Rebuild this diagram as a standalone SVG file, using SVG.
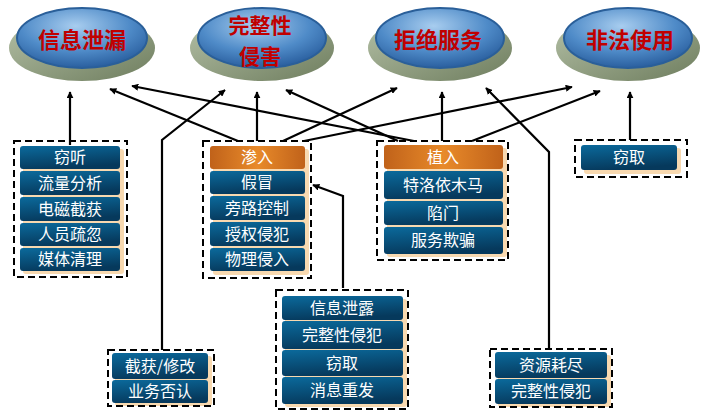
<svg xmlns="http://www.w3.org/2000/svg" width="725" height="414" viewBox="0 0 725 414">
<defs>
<linearGradient id="base" x1="0" y1="0" x2="1" y2="1"><stop offset="0" stop-color="#b6c2a8"/><stop offset="1" stop-color="#6e7d5e"/></linearGradient>
<radialGradient id="top" cx="0.45" cy="0.3" r="0.7"><stop offset="0" stop-color="#a8cdef"/><stop offset="0.6" stop-color="#4f8bc8"/><stop offset="1" stop-color="#2a5f9f"/></radialGradient>
<linearGradient id="blue" x1="0" y1="0" x2="0.3" y2="1"><stop offset="0" stop-color="#0b6a9c"/><stop offset="1" stop-color="#06395c"/></linearGradient>
<linearGradient id="orange" x1="0" y1="0" x2="1" y2="0"><stop offset="0" stop-color="#c0621a"/><stop offset="0.5" stop-color="#e88a2a"/><stop offset="1" stop-color="#c0621a"/></linearGradient>
<marker id="ar" viewBox="0 0 10 10" refX="9" refY="5" markerWidth="7" markerHeight="7" orient="auto" markerUnits="userSpaceOnUse"><path d="M0,0 L10,5 L0,10 z" fill="#000"/></marker>
</defs>
<style>
.t{font-family:"Noto Sans CJK SC","Noto Sans",sans-serif;}
.big{font-size:22px;font-weight:bold;fill:#c00000;text-anchor:middle;}
.it{font-size:16px;fill:#fff;text-anchor:middle;}
.sh{fill:#f8d9b0;}
.dash{fill:none;stroke:#000;stroke-width:2;stroke-dasharray:7 4;}
.c{fill:none;stroke:#000;stroke-width:2.2;marker-end:url(#ar);}
</style>
<rect width="725" height="414" fill="#fff"/>
<g id="n-leak"><ellipse cx="82" cy="48" rx="73" ry="33" fill="url(#base)"/><ellipse cx="82" cy="38" rx="65" ry="30" fill="url(#top)" stroke="#2a5f99" stroke-width="2"/><text class="t big" x="82" y="48">信息泄漏</text></g>
<g id="n-integ"><ellipse cx="262" cy="48" rx="72" ry="33" fill="url(#base)"/><ellipse cx="262" cy="38" rx="64" ry="30" fill="url(#top)" stroke="#2a5f99" stroke-width="2"/><text class="t big" x="260" y="33" style="font-size:21px">完整性</text><text class="t big" x="260" y="64" style="font-size:21px">侵害</text></g>
<g id="n-dos"><ellipse cx="440" cy="48" rx="72" ry="33" fill="url(#base)"/><ellipse cx="440" cy="38" rx="64" ry="30" fill="url(#top)" stroke="#2a5f99" stroke-width="2"/><text class="t big" x="438" y="48">拒绝服务</text></g>
<g id="n-illegal"><ellipse cx="628" cy="48" rx="72" ry="33" fill="url(#base)"/><ellipse cx="628" cy="38" rx="64" ry="30" fill="url(#top)" stroke="#2a5f99" stroke-width="2"/><text class="t big" x="630" y="48">非法使用</text></g>

<g id="connectors">
<path class="c" d="M70,145 V92"/>
<path class="c" d="M238,141 L110,89"/>
<path class="c" d="M414,141 L132,86"/>
<path class="c" d="M162,350 V140 L225,90"/>
<path class="c" d="M257,141 V92"/>
<path class="c" d="M398,141 L286,90"/>
<path class="c" d="M283,141 L397,88"/>
<path class="c" d="M304,141 L572,87"/>
<path class="c" d="M442,141 V92"/>
<path class="c" d="M472,141 L600,91"/>
<path class="c" d="M549,350 V152 L486,88"/>
<path class="c" d="M630,140 V92"/>
<path class="c" d="M343,288 V196 L313,185"/>
</g>

<g id="g-eaves">
<rect x="23" y="149" width="101" height="125" rx="3" class="sh"/>
<rect x="20" y="146" width="100" height="23" rx="3" fill="url(#blue)"/><text class="t it" x="70" y="163">窃听</text>
<rect x="20" y="171" width="100" height="24" rx="3" fill="url(#blue)"/><text class="t it" x="70" y="189">流量分析</text>
<rect x="20" y="197" width="100" height="24" rx="3" fill="url(#blue)"/><text class="t it" x="70" y="215">电磁截获</text>
<rect x="20" y="223" width="100" height="23" rx="3" fill="url(#blue)"/><text class="t it" x="70" y="240">人员疏忽</text>
<rect x="20" y="248" width="100" height="23" rx="3" fill="url(#blue)"/><text class="t it" x="70" y="265">媒体清理</text>
<rect x="14" y="141" width="113" height="136" class="dash"/>
</g>

<g id="g-penetrate">
<rect x="213" y="149" width="96" height="126" rx="3" class="sh"/>
<rect x="210" y="146" width="95" height="23" rx="3" fill="url(#orange)"/><text class="t it" x="257" y="163">渗入</text>
<rect x="210" y="171" width="95" height="23" rx="3" fill="url(#blue)"/><text class="t it" x="257" y="188">假冒</text>
<rect x="210" y="196" width="95" height="24" rx="3" fill="url(#blue)"/><text class="t it" x="257" y="214">旁路控制</text>
<rect x="210" y="222" width="95" height="24" rx="3" fill="url(#blue)"/><text class="t it" x="257" y="240">授权侵犯</text>
<rect x="210" y="248" width="95" height="23" rx="3" fill="url(#blue)"/><text class="t it" x="257" y="265">物理侵入</text>
<rect x="203" y="141" width="108" height="137" class="dash"/>
</g>

<g id="g-implant">
<rect x="387" y="148" width="120" height="109" rx="3" class="sh"/>
<rect x="384" y="145" width="119" height="24" rx="3" fill="url(#orange)"/><text class="t it" x="443" y="163">植入</text>
<rect x="384" y="171" width="119" height="28" rx="3" fill="url(#blue)"/><text class="t it" x="443" y="191">特洛依木马</text>
<rect x="384" y="201" width="119" height="24" rx="3" fill="url(#blue)"/><text class="t it" x="443" y="219">陷门</text>
<rect x="384" y="227" width="119" height="27" rx="3" fill="url(#blue)"/><text class="t it" x="443" y="246">服务欺骗</text>
<rect x="377" y="141" width="131" height="119" class="dash"/>
</g>

<g id="g-steal">
<rect x="584" y="148" width="97" height="26" rx="3" class="sh"/>
<rect x="581" y="145" width="96" height="25" rx="3" fill="url(#blue)"/><text class="t it" x="629" y="163">窃取</text>
<rect x="575" y="140" width="112" height="37" class="dash"/>
</g>

<g id="g-threats">
<rect x="285" y="299" width="122" height="108" rx="3" class="sh"/>
<rect x="282" y="296" width="121" height="24" rx="3" fill="url(#blue)"/><text class="t it" x="342" y="314">信息泄露</text>
<rect x="282" y="321" width="121" height="28" rx="3" fill="url(#blue)"/><text class="t it" x="342" y="341">完整性侵犯</text>
<rect x="282" y="350" width="121" height="26" rx="3" fill="url(#blue)"/><text class="t it" x="342" y="369">窃取</text>
<rect x="282" y="377" width="121" height="27" rx="3" fill="url(#blue)"/><text class="t it" x="342" y="396">消息重发</text>
<rect x="276" y="290" width="132" height="119" class="dash"/>
</g>

<g id="g-intercept">
<rect x="115" y="356" width="97" height="50" rx="3" class="sh"/>
<rect x="112" y="353" width="96" height="26" rx="3" fill="url(#blue)"/><text class="t it" x="160" y="372">截获/修改</text>
<rect x="112" y="380" width="96" height="23" rx="3" fill="url(#blue)"/><text class="t it" x="160" y="397">业务否认</text>
<rect x="108" y="350" width="106" height="56" class="dash"/>
</g>

<g id="g-resource">
<rect x="498" y="355" width="113" height="52" rx="3" class="sh"/>
<rect x="495" y="352" width="112" height="26" rx="3" fill="url(#blue)"/><text class="t it" x="551" y="371">资源耗尽</text>
<rect x="495" y="379" width="112" height="25" rx="3" fill="url(#blue)"/><text class="t it" x="551" y="397">完整性侵犯</text>
<rect x="490" y="349" width="122" height="58" class="dash"/>
</g>
</svg>
